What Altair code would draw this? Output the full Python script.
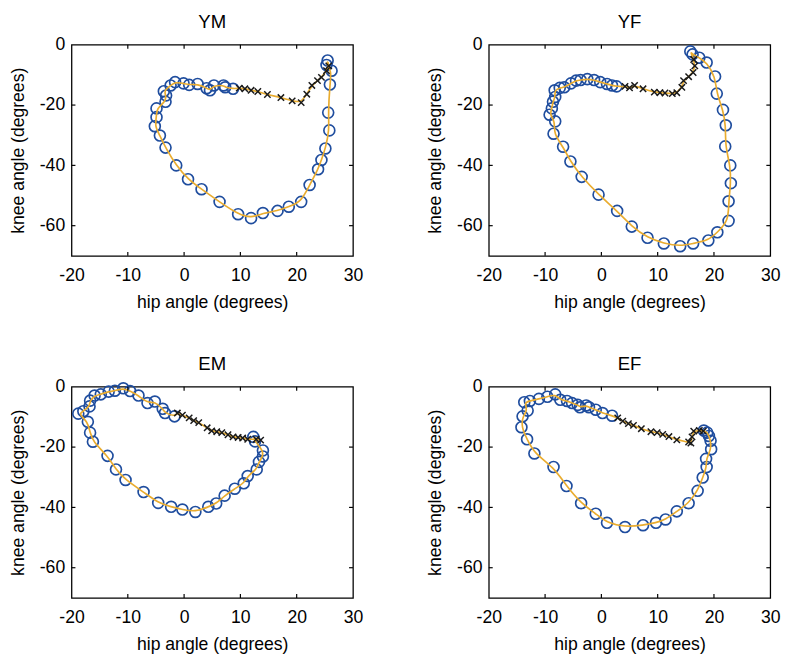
import altair as alt
import pandas as pd

# ---------------- data (hip angle, knee angle in degrees) ----------------
ym_circ_hip = [25.5, 25.3, 26.2, 25.9, 25.6, 25.8, 25.1, 24.4, 23.8, 22.3, 20.8, 18.6, 16.6, 14.0, 11.9, 9.6, 6.3, 3.1, 0.7, -1.4,
               -3.3, -4.3, -5.2, -4.9, -4.9, -3.3, -3.2, -3.6, -2.4, -1.6, -0.1, 0.9, 2.4, 4.0, 4.6, 5.3, 7.0, 7.3, 8.7]
ym_circ_knee = [-5.2, -6.7, -8.6, -13.2, -22.5, -28.4, -34.4, -38.2, -41.3, -46.5, -52.1, -53.7, -55.1, -55.8, -57.5, -56.2, -52.1, -47.9, -44.6, -40.0,
                -34.1, -30.1, -27.0, -24.0, -21.1, -18.9, -16.8, -15.4, -13.5, -12.4, -12.8, -13.3, -13.0, -14.4, -15.1, -13.5, -13.5, -14.1, -14.6]
ym_x_hip = [9.8, 10.8, 11.9, 13.1, 14.8, 17.2, 19.2, 20.8, 21.8, 22.7, 23.7, 24.4, 25.3, 25.7]
ym_x_knee = [-14.4, -14.6, -15.1, -15.5, -16.5, -17.5, -18.6, -19.2, -16.4, -13.5, -11.9, -10.8, -8.6, -7.0]

yf_circ_hip = [15.8, 16.2, 17.4, 18.7, 20.2, 20.5, 21.6, 22.1, 22.0, 22.9, 23.0, 22.6, 22.6, 20.6, 19.0, 16.3, 14.0, 11.1, 8.2, 5.4,
               2.8, -0.5, -3.5, -5.5, -6.8, -8.5, -8.2, -9.2, -8.8, -8.6, -8.2, -8.3, -7.4, -6.6, -5.4, -4.5, -3.7, -2.5, -1.3, -0.2,
               1.0, 1.9, 2.7]
yf_circ_knee = [-2.2, -3.2, -4.3, -5.9, -10.5, -16.2, -21.6, -26.7, -33.7, -40.0, -45.9, -51.9, -58.4, -62.2, -64.9, -65.9, -66.8, -65.9, -64.0, -60.3,
                -55.1, -49.7, -43.8, -38.7, -33.8, -29.5, -25.4, -23.2, -21.1, -18.9, -17.3, -15.1, -14.3, -14.1, -12.8, -11.9, -11.7, -11.4, -11.7, -12.4,
                -13.0, -13.5, -13.8]
yf_x_hip = [4.2, 5.0, 5.9, 7.4, 9.4, 10.4, 11.3, 12.6, 13.4, 14.3, 14.6, 15.5, 16.3, 16.6, 16.4]
yf_x_knee = [-13.8, -14.3, -13.5, -14.6, -15.7, -15.9, -16.0, -16.2, -15.9, -14.1, -11.9, -10.6, -9.2, -7.0, -4.9]

em_circ_hip = [12.3, 12.6, 14.0, 14.0, 13.3, 12.9, 11.3, 10.6, 9.0, 7.2, 5.7, 4.3, 2.0, -0.3, -2.3, -4.6, -7.2, -10.4, -12.1, -13.6,
               -16.2, -16.7, -17.1, -18.8, -17.9, -16.8, -16.7, -15.9, -14.8, -13.4, -12.3, -10.8, -9.6, -8.1, -6.5, -5.2, -3.8, -3.4, -1.7]
em_circ_knee = [-16.6, -18.1, -21.1, -23.1, -24.9, -27.4, -29.6, -32.0, -33.8, -36.1, -38.7, -39.8, -41.5, -40.7, -39.8, -38.5, -34.9, -30.9, -27.4, -22.9,
                -18.2, -15.2, -11.6, -8.9, -8.1, -6.5, -4.6, -2.9, -2.5, -1.6, -1.3, -0.5, -1.4, -2.9, -5.4, -4.9, -7.3, -8.7, -9.8]
em_x_hip = [-1.2, -0.3, 0.9, 1.7, 2.6, 4.1, 4.9, 5.8, 6.7, 7.8, 8.7, 9.6, 10.4, 11.3, 12.8, 13.6]
em_x_knee = [-8.7, -9.4, -10.3, -11.2, -11.9, -13.6, -14.6, -14.9, -15.2, -15.9, -16.6, -16.8, -17.0, -17.4, -17.4, -17.7]

ef_circ_hip = [18.2, 18.8, 19.1, 19.4, 19.5, 18.6, 18.7, 18.0, 17.1, 15.5, 13.4, 11.4, 9.7, 7.4, 4.2, 1.0, -1.0, -3.6, -6.2, -8.5,
               -11.9, -13.2, -14.2, -14.0, -13.1, -13.7, -12.7, -11.1, -9.6, -8.2, -7.3, -6.1, -5.2, -4.2, -3.8, -2.7, -2.2, -1.0, 0.2, 1.9]
ef_circ_knee = [-14.5, -15.2, -16.3, -17.9, -20.7, -23.9, -26.6, -30.1, -34.5, -38.6, -41.3, -44.0, -45.1, -45.9, -46.5, -45.1, -42.1, -38.6, -32.9, -26.6,
                -22.1, -17.4, -13.4, -9.8, -7.9, -5.1, -4.7, -4.0, -3.3, -2.5, -4.3, -4.7, -5.4, -6.0, -6.8, -6.2, -6.8, -7.6, -8.7, -9.6]
ef_x_hip = [2.9, 3.8, 4.8, 5.7, 7.1, 8.8, 9.9, 10.9, 12.0, 13.4, 15.5, 15.9, 16.1, 16.4, 17.4, 18.1]
ef_x_knee = [-10.3, -11.4, -12.2, -12.8, -13.9, -14.9, -15.2, -15.8, -16.5, -17.6, -18.3, -18.7, -16.6, -14.7, -14.5, -14.7]

x_ticks = [-20, -10, 0, 10, 20, 30]
y_ticks = [-60, -40, -20, 0]
x_inner = [-10, 0, 10, 20]
y_inner = [-60, -40, -20]

FONT = "Liberation Sans"
W, H = 288, 216
BLUE = "#1F4D9E"
GOLD = "#E9AC2F"
HYPHEN_LABEL = "datum.value < 0 ? '-' + (-datum.value) : '' + datum.value"


def panel(title, ch, ck, xh, xk):
    rows = []
    for i, (a, b) in enumerate(zip(ch, ck)):
        rows.append({"order": i, "hip": a, "knee": b, "kind": "circle"})
    n = len(rows)
    for j, (a, b) in enumerate(zip(xh, xk)):
        rows.append({"order": n + j, "hip": a, "knee": b, "kind": "cross"})
    df = pd.DataFrame(rows)

    xs = alt.Scale(domain=[-20, 30], nice=False, zero=False)
    ys = alt.Scale(domain=[-70, 0], nice=False, zero=False)
    xenc = alt.X("hip:Q", scale=xs,
                 axis=alt.Axis(values=x_ticks, title="hip angle (degrees)", labelFlush=False,
                               labelExpr=HYPHEN_LABEL, labelPadding=11, titlePadding=10))
    yenc = alt.Y("knee:Q", scale=ys,
                 axis=alt.Axis(values=y_ticks, title="knee angle (degrees)", labelFlush=False,
                               labelExpr=HYPHEN_LABEL, labelPadding=7, titlePadding=12))

    base = alt.Chart(df)
    circles = base.transform_filter(alt.datum.kind == "circle").mark_point(
        shape="circle", filled=False, size=125, strokeWidth=1.7, color=BLUE, opacity=1
    ).encode(x=xenc, y=yenc)
    line = base.mark_line(interpolate="basis-closed", color=GOLD, strokeWidth=1.7).encode(
        x=xenc, y=yenc, order="order:Q")
    crosses = base.transform_filter(alt.datum.kind == "cross").mark_point(
        shape="M-1,-1L1,1M-1,1L1,-1", filled=False, size=42, strokeWidth=1.5, color="#1a1a1a", opacity=1
    ).encode(x=xenc, y=yenc)

    tx = alt.Chart(pd.DataFrame({"v": x_inner}))
    ty = alt.Chart(pd.DataFrame({"v": y_inner}))
    tick_b = tx.mark_rule(color="black", strokeWidth=1.2).encode(
        x=alt.X("v:Q", scale=xs), y=alt.value(H), y2=alt.value(H - 4))
    tick_t = tx.mark_rule(color="black", strokeWidth=1.2).encode(
        x=alt.X("v:Q", scale=xs), y=alt.value(0), y2=alt.value(4))
    tick_l = ty.mark_rule(color="black", strokeWidth=1.2).encode(
        y=alt.Y("v:Q", scale=ys), x=alt.value(0), x2=alt.value(4))
    tick_r = ty.mark_rule(color="black", strokeWidth=1.2).encode(
        y=alt.Y("v:Q", scale=ys), x=alt.value(W), x2=alt.value(W - 4))

    return alt.layer(circles, line, crosses, tick_b, tick_t, tick_l, tick_r).properties(
        width=W, height=H,
        title=alt.TitleParams(title, fontSize=19, fontWeight="normal", font=FONT, color="black", offset=4),
    )


ym = panel("YM", ym_circ_hip, ym_circ_knee, ym_x_hip, ym_x_knee)
yf = panel("YF", yf_circ_hip, yf_circ_knee, yf_x_hip, yf_x_knee)
em = panel("EM", em_circ_hip, em_circ_knee, em_x_hip, em_x_knee)
ef = panel("EF", ef_circ_hip, ef_circ_knee, ef_x_hip, ef_x_knee)

chart = alt.concat(
    ym, yf, em, ef, columns=2,
    spacing={"row": 134, "column": 139},
    bounds="flush",
).properties(
    padding={"left": 1, "top": -3, "right": 0, "bottom": 0},
    background="white",
).configure_view(
    stroke="black", strokeWidth=1.3
).configure_axis(
    grid=False, domain=False, ticks=False,
    labelFont=FONT, labelFontSize=18, labelColor="black",
    titleFont=FONT, titleFontSize=18, titleFontWeight="normal", titleColor="black",
)

chart.save("out.html", embed_options={"renderer": "svg", "actions": False})
